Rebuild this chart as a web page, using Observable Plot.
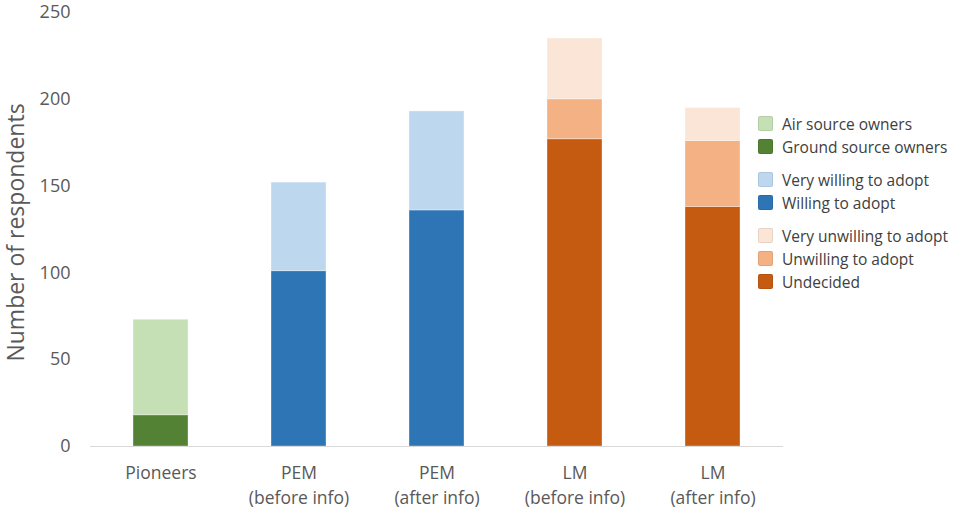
<!DOCTYPE html>
<html>
<head>
<meta charset="utf-8">
<script src="https://cdn.jsdelivr.net/npm/d3@7"></script>
<script src="https://cdn.jsdelivr.net/npm/@observablehq/plot@0.6"></script>
<style>
  html, body { margin: 0; padding: 0; background: #fff; }
  #wrap { position: relative; width: 957px; height: 510px; font-family: "Open Sans", sans-serif; }
  #legend { position: absolute; left: 758px; top: 112px; font-size: 15.5px; color: #404040; }
  .item { display: flex; align-items: center; height: 23px; white-space: nowrap; }
  .gap { height: 10px; }
  .sw { width: 15px; height: 15px; margin-right: 9px; border-radius: 2px; box-sizing: border-box; border: 1px solid rgba(0,0,0,0.08); }
</style>
</head>
<body>
<div id="wrap"><div id="legend"></div></div>
<script>
const categories = ["Pioneers", "PEM\n(before info)", "PEM\n(after info)", "LM\n(before info)", "LM\n(after info)"];
const seriesNames = ["Ground source owners", "Air source owners", "Willing to adopt", "Very willing to adopt", "Undecided", "Unwilling to adopt", "Very unwilling to adopt"];
const seriesColors = ["#548235", "#C5E0B4", "#2E75B6", "#BDD7EE", "#C55A11", "#F4B183", "#FBE5D6"];
const groundSource  = [18, 0, 0, 0, 0];
const airSource     = [55, 0, 0, 0, 0];
const willing       = [0, 101, 136, 0, 0];
const veryWilling   = [0, 51, 57, 0, 0];
const undecided     = [0, 0, 0, 177, 138];
const unwilling     = [0, 0, 0, 23, 38];
const veryUnwilling = [0, 0, 0, 35, 19];
const yTicks = [0, 50, 100, 150, 200, 250];
const legendOrder = [["Air source owners", "Ground source owners"], ["Very willing to adopt", "Willing to adopt"], ["Very unwilling to adopt", "Unwilling to adopt", "Undecided"]];

const seriesValues = [groundSource, airSource, willing, veryWilling, undecided, unwilling, veryUnwilling];
const rows = [];
seriesNames.forEach((s, i) => {
  categories.forEach((c, j) => {
    if (seriesValues[i][j] > 0) rows.push({category: c, series: s, order: i, value: seriesValues[i][j]});
  });
});

const chart = Plot.plot({
  width: 957,
  height: 510,
  marginLeft: 90,
  marginRight: 174,
  marginTop: 12,
  marginBottom: 64,
  style: {fontFamily: "'Open Sans', sans-serif", color: "#595959", background: "white"},
  x: {domain: categories, paddingInner: 0.6, paddingOuter: 0.3, label: null},
  y: {domain: [0, 250], label: null},
  color: {domain: seriesNames, range: seriesColors},
  marks: [
    Plot.barY(rows, {x: "category", y: "value", fill: "series", order: "order", stroke: "white", strokeOpacity: 0.35, strokeWidth: 1}),
    Plot.ruleY([0], {stroke: "#d9d9d9", strokeWidth: 1.2}),
    Plot.axisY({ticks: yTicks, tickSize: 0, tickPadding: 20, fontSize: 18, label: null}),
    Plot.axisX({tickSize: 0, tickPadding: 15, fontSize: 17.5, lineHeight: 1.42, label: null}),
    Plot.text(["Number of respondents"], {frameAnchor: "left", dx: -74, dy: 3, rotate: -90, textAnchor: "middle", fontSize: 23, fill: "#595959"})
  ]
});
document.getElementById("wrap").prepend(chart);

const legend = document.getElementById("legend");
const colorOf = Object.fromEntries(seriesNames.map((s, i) => [s, seriesColors[i]]));
legendOrder.forEach((grp, gi) => {
  if (gi > 0) { const g = document.createElement("div"); g.className = "gap"; legend.appendChild(g); }
  grp.forEach(name => {
    const it = document.createElement("div"); it.className = "item";
    const sw = document.createElement("div"); sw.className = "sw"; sw.style.background = colorOf[name];
    const tx = document.createElement("span"); tx.textContent = name;
    it.appendChild(sw); it.appendChild(tx); legend.appendChild(it);
  });
});
</script>
</body>
</html>
